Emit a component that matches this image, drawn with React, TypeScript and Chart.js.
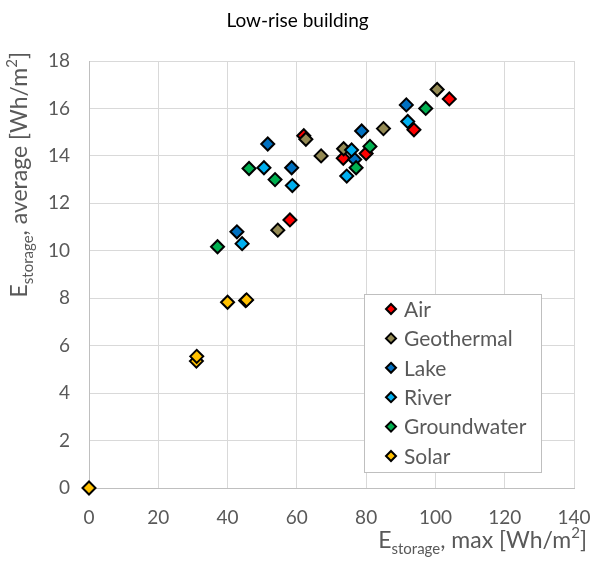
import React, { useEffect, useRef } from "react";
import { Chart, registerables } from "chart.js";

Chart.register(...registerables);

const chartTitle = "Low-rise building";
const seriesNames = ["Air", "Geothermal", "Lake", "River", "Groundwater", "Solar"];
const seriesColors = ["#FF0000", "#948A54", "#0070C0", "#00B0F0", "#00B050", "#FFC000"];

const airX = [62, 58, 104, 93.8, 73.4, 80];
const airY = [14.85, 11.3, 16.4, 15.1, 13.9, 14.1];
const geoX = [62.6, 67, 54.5, 100.5, 85, 73.5];
const geoY = [14.7, 14.0, 10.87, 16.8, 15.15, 14.3];
const lakeX = [51.6, 58.5, 42.7, 91.6, 78.7, 76.7];
const lakeY = [14.5, 13.5, 10.8, 16.15, 15.05, 13.85];
const riverX = [50.5, 58.7, 44.2, 92, 75.8, 74.4];
const riverY = [13.5, 12.75, 10.3, 15.45, 14.25, 13.15];
const groundX = [46.2, 53.7, 37.1, 97.2, 81.1, 77.1];
const groundY = [13.47, 13.0, 10.17, 16.0, 14.4, 13.5];
const solarX = [0, 31, 31.1, 40, 45.2, 45.5];
const solarY = [0, 5.35, 5.55, 7.83, 7.9, 7.93];

const xTicks = [0, 20, 40, 60, 80, 100, 120, 140];
const yTicks = [0, 2, 4, 6, 8, 10, 12, 14, 16, 18];

const allX = [airX, geoX, lakeX, riverX, groundX, solarX];
const allY = [airY, geoY, lakeY, riverY, groundY, solarY];

const FONT = "Lato, 'Liberation Sans', sans-serif";
const GREY_TEXT = "#595959";

type Part = { t: string; size: number; dy: number };

function drawRich(ctx: CanvasRenderingContext2D, parts: Part[], x: number, y: number) {
  // right-aligned at x, baseline y
  let total = 0;
  const widths = parts.map((p) => {
    ctx.font = `${p.size}px ${FONT}`;
    const w = ctx.measureText(p.t).width;
    total += w;
    return w;
  });
  let cx = x - total;
  parts.forEach((p, i) => {
    ctx.font = `${p.size}px ${FONT}`;
    ctx.fillText(p.t, cx, y + p.dy);
    cx += widths[i];
  });
}

const overlayPlugin = {
  id: "overlay",
  afterDraw(chart: any) {
    const ctx: CanvasRenderingContext2D = chart.ctx;
    const area = chart.chartArea;
    ctx.save();
    // Title
    ctx.fillStyle = "#000";
    ctx.font = `19px ${FONT}`;
    ctx.textAlign = "center";
    ctx.textBaseline = "middle";
    ctx.fillText(chartTitle, chart.width / 2, 21);

    // axis titles
    ctx.fillStyle = GREY_TEXT;
    ctx.textAlign = "left";
    ctx.textBaseline = "alphabetic";
    const xParts: Part[] = [
      { t: "E", size: 23, dy: 0 },
      { t: "storage", size: 15, dy: 6 },
      { t: ", max [Wh/m", size: 23, dy: 0 },
      { t: "2", size: 15, dy: -10 },
      { t: "]", size: 23, dy: 0 },
    ];
    drawRich(ctx, xParts, area.right + 13, 548);

    const yParts: Part[] = [
      { t: "E", size: 23, dy: 0 },
      { t: "storage", size: 15, dy: 6 },
      { t: ", average [Wh/m", size: 23, dy: 0 },
      { t: "2", size: 15, dy: -10 },
      { t: "]", size: 23, dy: 0 },
    ];
    ctx.save();
    ctx.translate(27, area.top - 9);
    ctx.rotate(-Math.PI / 2);
    drawRich(ctx, yParts, 0, 0);
    ctx.restore();

    // Legend
    const lx = area.right - 210;
    const ly = area.top + 233;
    const lw = 177;
    const lh = 178;
    ctx.fillStyle = "#FFFFFF";
    ctx.fillRect(lx, ly, lw, lh);
    ctx.strokeStyle = "#BFBFBF";
    ctx.lineWidth = 1;
    ctx.strokeRect(lx + 0.5, ly + 0.5, lw, lh);
    ctx.textBaseline = "middle";
    ctx.textAlign = "left";
    ctx.font = `21px ${FONT}`;
    seriesNames.forEach((name, i) => {
      const cy = ly + 15 + i * 29.4;
      const cx = lx + 27;
      const r = 5;
      ctx.beginPath();
      ctx.moveTo(cx, cy - r);
      ctx.lineTo(cx + r, cy);
      ctx.lineTo(cx, cy + r);
      ctx.lineTo(cx - r, cy);
      ctx.closePath();
      ctx.fillStyle = seriesColors[i];
      ctx.fill();
      ctx.strokeStyle = "#000";
      ctx.lineWidth = 2;
      ctx.stroke();
      ctx.fillStyle = GREY_TEXT;
      ctx.fillText(name, lx + 40, cy + 1);
    });
    ctx.restore();
  },
};

export default function App() {
  const ref = useRef<HTMLCanvasElement | null>(null);
  useEffect(() => {
    if (!ref.current) return;
    const datasets = seriesNames.map((name, i) => ({
      label: name,
      data: allX[i].map((x, j) => ({ x, y: allY[i][j] })),
      backgroundColor: seriesColors[i],
      borderColor: "#000000",
      borderWidth: 2,
      pointStyle: "rectRot",
      pointRadius: 6.5,
      pointHoverRadius: 6.5,
      clip: false,
      order: seriesNames.length - i,
    }));
    const chart = new Chart(ref.current, {
      type: "scatter",
      data: { datasets } as any,
      options: {
        responsive: false,
        animation: false,
        devicePixelRatio: 1,
        layout: { padding: { top: 61, right: 21, left: 0, bottom: 0 } },
        plugins: {
          legend: { display: false },
          title: { display: false },
          tooltip: { enabled: false },
        },
        scales: {
          x: {
            type: "linear",
            min: xTicks[0],
            max: xTicks[xTicks.length - 1],
            afterBuildTicks: (scale: any) => {
              scale.ticks = xTicks.map((v) => ({ value: v }));
            },
            afterFit: (scale: any) => {
              scale.height = 77;
              scale.paddingLeft = 0;
              scale.paddingRight = 0;
            },
            ticks: {
              font: { family: FONT, size: 19 },
              color: GREY_TEXT,
              padding: 18,
              maxRotation: 0,
            },
            grid: { color: "#D9D9D9", drawTicks: false, lineWidth: 1 },
            border: { color: "#BFBFBF", width: 1 },
          },
          y: {
            type: "linear",
            min: yTicks[0],
            max: yTicks[yTicks.length - 1],
            afterBuildTicks: (scale: any) => {
              scale.ticks = yTicks.map((v) => ({ value: v }));
            },
            afterFit: (scale: any) => {
              scale.width = 89;
              scale.paddingTop = 0;
              scale.paddingBottom = 0;
            },
            ticks: {
              font: { family: FONT, size: 19 },
              color: GREY_TEXT,
              padding: 19,
            },
            grid: { color: "#D9D9D9", drawTicks: false, lineWidth: 1 },
            border: { color: "#BFBFBF", width: 1 },
          },
        },
      } as any,
      plugins: [overlayPlugin],
    });
    return () => chart.destroy();
  }, []);
  return (
    <div style={{ position: "fixed", left: 0, top: 0, width: 595, height: 565, background: "#fff" }}>
      <canvas ref={ref} width={595} height={565} style={{ width: 595, height: 565, display: "block" }} />
    </div>
  );
}
